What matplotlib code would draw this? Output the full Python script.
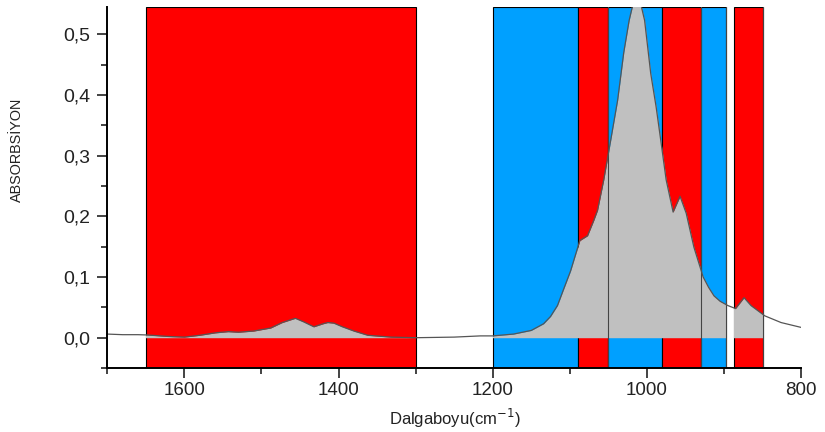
import numpy as np
import matplotlib
matplotlib.use('Agg')
import matplotlib.pyplot as plt
from matplotlib.patches import Rectangle
from matplotlib.ticker import MultipleLocator, FuncFormatter

plt.rcParams['font.family'] = ['Liberation Sans', 'DejaVu Sans']

# spectrum (wavenumber, absorbance)
wavenumber = [1700, 1680, 1660, 1648, 1620, 1600, 1580, 1560, 1543, 1530, 1510,
              1488, 1473, 1456, 1445, 1432, 1420, 1414, 1406, 1395, 1380, 1362,
              1332, 1300, 1250, 1216, 1200, 1173, 1150, 1134, 1125, 1116, 1108, 1099, 1087,
              1077, 1069, 1064, 1056, 1047, 1038, 1030, 1023, 1018, 1013, 1008,
              1003, 995, 988, 982, 975, 966, 957, 949, 939, 927, 920, 913, 905, 895, 885,
              874, 865, 847, 826, 800]
absorbance = [0.006, 0.005, 0.005, 0.0045, 0.002, 0.001, 0.004, 0.008, 0.010, 0.009, 0.011,
              0.016, 0.025, 0.032, 0.026, 0.018, 0.023, 0.025, 0.024, 0.018, 0.011, 0.004,
              0.001, 0.0, 0.001, 0.003, 0.003, 0.006, 0.012, 0.023, 0.035, 0.053, 0.08, 0.11, 0.16,
              0.168, 0.193, 0.21, 0.26, 0.325, 0.391, 0.47, 0.523, 0.55, 0.565, 0.55,
              0.523, 0.435, 0.38, 0.325, 0.26, 0.207, 0.233, 0.205, 0.149, 0.10, 0.083, 0.069, 0.06, 0.053, 0.048,
              0.066, 0.053, 0.036, 0.025, 0.017]

# highlighted regions (start, end, colour)
band_start = [1650, 1200, 1090, 1050, 980, 930, 887]
band_end = [1300, 1090, 1050, 980, 930, 897, 850]
band_color = ['#ff0000', '#00a0ff', '#ff0000', '#00a0ff', '#ff0000', '#00a0ff', '#ff0000']

# integrated regions (grey fill under spectrum)
fill_regions = [(1650, 1300), (1200, 897), (887, 850)]
divider_lines = [1050, 930, 897, 850]

fig = plt.figure(figsize=(8.25, 4.32), dpi=100)
ax = fig.add_axes([0.13, 0.148, 0.841, 0.836])

ymin, ymax = -0.05, 0.545
for s, e, c in zip(band_start, band_end, band_color):
    ax.add_patch(Rectangle((e, ymin), s - e, ymax - ymin, facecolor=c,
                           edgecolor='black', linewidth=0.8, zorder=1))

for s, e in fill_regions:
    poly = ax.fill_between(wavenumber, 0, absorbance, color='#c0c0c0',
                           linewidth=0, zorder=2)
    clip = Rectangle((e, ymin), s - e, ymax - ymin, transform=ax.transData)
    poly.set_clip_path(clip)

for x in divider_lines:
    ax.axvline(x, color='#444444', linewidth=0.8, zorder=3)

ax.plot(wavenumber, absorbance, color='#555555', linewidth=0.9, zorder=4)

ax.set_xlim(1700, 800)
ax.set_ylim(ymin, ymax)
ax.xaxis.set_major_locator(MultipleLocator(200))
ax.xaxis.set_minor_locator(MultipleLocator(100))
ax.yaxis.set_major_locator(MultipleLocator(0.1))
ax.yaxis.set_minor_locator(MultipleLocator(0.05))
ax.yaxis.set_major_formatter(FuncFormatter(lambda v, p: f'{v:.1f}'.replace('.', ',')))
ax.tick_params(which='both', direction='out', width=1.2, colors='#222222')
ax.tick_params(axis='y', labelsize=14, pad=5)
ax.tick_params(axis='x', labelsize=13.5, pad=3)
ax.tick_params(which='major', length=7)
ax.tick_params(which='minor', length=4)
for side in ['top', 'right']:
    ax.spines[side].set_visible(False)
for side in ['left', 'bottom']:
    ax.spines[side].set_linewidth(1.4)
    ax.spines[side].set_zorder(5)

fig.text(455 / 825, 1 - 418 / 432, 'Dalgaboyu(cm$^{-1}$)', fontsize=12,
         color='#222222', ha='center', va='center')
fig.text(17 / 825, 1 - 150 / 432, 'ABSORBSİYON', fontsize=10.4, rotation=90,
         color='#222222', ha='center', va='center')

fig.savefig('out.png', dpi=100)
